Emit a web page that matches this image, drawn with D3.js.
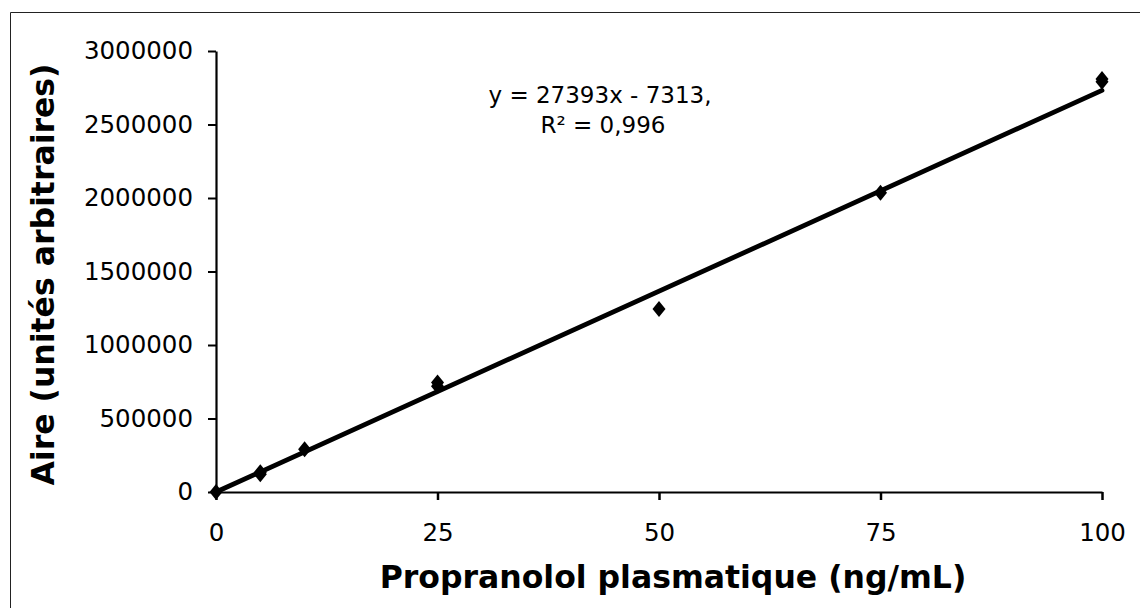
<!DOCTYPE html>
<html>
<head>
<meta charset="utf-8">
<script src="https://cdn.jsdelivr.net/npm/d3@7"></script>
<style>
  html, body { margin: 0; padding: 0; background: #fff; }
  svg { display: block; }
  text { font-family: "DejaVu Sans", Verdana, sans-serif; fill: #000; }
</style>
</head>
<body>
<svg id="chart" width="1146" height="608"></svg>
<script>
// Calibration standards: plasma propranolol concentration vs. peak area
const concentrations = [0, 5, 5, 10, 25, 25, 50, 75, 100, 100];
const areas = [0, 135000, 120000, 290000, 745000, 720000, 1245000, 2035000, 2810000, 2790000];

// Linear fit reported on the chart
const slope = 27393;
const intercept = -7313;
const r2Label = "0,996";

const xTicks = [0, 25, 50, 75, 100];
const yTicks = [0, 500000, 1000000, 1500000, 2000000, 2500000, 3000000];

const svg = d3.select("#chart");

// Frame around the figure
svg.append("path")
  .attr("d", "M10.5,608 L10.5,12.5 L1140,12.5")
  .attr("fill", "none")
  .attr("stroke", "#222")
  .attr("stroke-width", 1);

const x = d3.scaleLinear().domain([0, 100]).range([216, 1102]);
const y = d3.scaleLinear().domain([0, 3000000]).range([492, 51]);

// Y axis
const yAxis = svg.append("g")
  .attr("transform", `translate(${x(0)},0)`)
  .call(d3.axisLeft(y).tickValues(yTicks).tickFormat(d3.format("d")).tickSize(8).tickPadding(15).tickSizeOuter(0));
yAxis.select(".domain").attr("stroke", "#000").attr("stroke-width", 2.2);
yAxis.selectAll(".tick line").attr("stroke", "#000").attr("stroke-width", 2);
yAxis.selectAll(".tick text")
  .attr("font-family", "DejaVu Sans, Verdana, sans-serif")
  .attr("font-size", 24.5);

// X axis
const xAxis = svg.append("g")
  .attr("transform", `translate(0,${y(0)})`)
  .call(d3.axisBottom(x).tickValues(xTicks).tickFormat(d3.format("d")).tickSize(8).tickPadding(24).tickSizeOuter(0));
xAxis.select(".domain").attr("stroke", "#000").attr("stroke-width", 2.2);
xAxis.selectAll(".tick line").attr("stroke", "#000").attr("stroke-width", 2.5);
xAxis.selectAll(".tick text")
  .attr("font-family", "DejaVu Sans, Verdana, sans-serif")
  .attr("font-size", 24.5);

// Axis titles
svg.append("text")
  .attr("x", 673)
  .attr("y", 588)
  .attr("text-anchor", "middle")
  .attr("font-size", 31.5)
  .attr("font-weight", "bold")
  .text("Propranolol plasmatique (ng/mL)");

svg.append("text")
  .attr("transform", `translate(54,${(y(0) + y(3000000)) / 2 + 3}) rotate(-90)`)
  .attr("text-anchor", "middle")
  .attr("font-size", 31.5)
  .attr("font-weight", "bold")
  .text("Aire (unités arbitraires)");

// Regression line
svg.append("line")
  .attr("x1", x(0)).attr("y1", y(Math.max(0, intercept)))
  .attr("x2", x(100)).attr("y2", y(slope * 100 + intercept))
  .attr("stroke", "#000")
  .attr("stroke-width", 4.8)
  .attr("stroke-linecap", "round");

// Diamond markers
const diamond = {
  draw(ctx, size) {
    const w = 6.5, h = 8;
    ctx.moveTo(0, -h); ctx.lineTo(w, 0); ctx.lineTo(0, h); ctx.lineTo(-w, 0); ctx.closePath();
  }
};
svg.append("g").selectAll("path")
  .data(concentrations.map((c, i) => [c, areas[i]]))
  .join("path")
  .attr("transform", d => `translate(${x(d[0])},${y(d[1])})`)
  .attr("d", d3.symbol().type(diamond).size(100))
  .attr("fill", "#000");

// Equation label
const eq = svg.append("text")
  .attr("text-anchor", "middle")
  .attr("font-size", 23);
eq.append("tspan").attr("x", 600).attr("y", 103)
  .text(`y = ${slope}x - ${Math.abs(intercept)},`);
eq.append("tspan").attr("x", 603).attr("y", 133)
  .text(`R² = ${r2Label}`);
</script>
</body>
</html>
